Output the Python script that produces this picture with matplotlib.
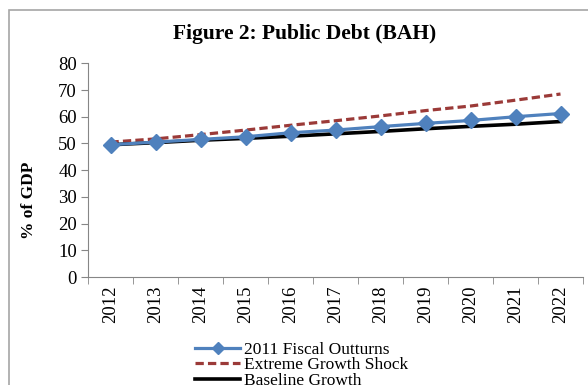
import matplotlib.pyplot as plt
from matplotlib.patches import Rectangle

years = ["2012", "2013", "2014", "2015", "2016", "2017",
         "2018", "2019", "2020", "2021", "2022"]
fiscal_outturns = [49.5, 50.5, 51.5, 52.5, 54.0, 55.0, 56.3, 57.5, 58.6, 60.0, 61.2]
extreme_shock = [50.5, 51.7, 53.3, 55.0, 56.8, 58.5, 60.3, 62.3, 64.0, 66.2, 68.5]
baseline = [49.5, 50.3, 51.2, 51.9, 52.7, 53.6, 54.5, 55.5, 56.4, 57.2, 58.2]

plt.rcParams["font.family"] = ["Liberation Serif", "DejaVu Serif"]

fig = plt.figure(figsize=(5.88, 3.85), dpi=100)
ax = fig.add_axes([88 / 588, 108 / 385, 495 / 588, 213.7 / 385])

# chart area border (runs off the right and bottom edges)
fig.patches.append(Rectangle((9 / 588, -0.1), 1.0, 1 - 10 / 385 + 0.1,
                             transform=fig.transFigure, fill=False,
                             edgecolor="#a6a6a6", linewidth=1.2))

x = list(range(len(years)))
ax.plot(x, fiscal_outturns, color="#4f81bd", linewidth=2.3, marker="D",
        markersize=8, label="2011 Fiscal Outturns", zorder=4)
ax.plot(x, extreme_shock, color="#9b3a38", linewidth=2.3, linestyle=(0, (2.6, 1.3)),
        label="Extreme Growth Shock", zorder=3)
ax.plot(x, baseline, color="black", linewidth=2.6, label="Baseline Growth", zorder=3)

ax.set_xlim(-0.5, len(years) - 0.5)
ax.set_ylim(0, 80)
ax.set_yticks(range(0, 81, 10))
ax.set_xticks(x)
ax.set_xticklabels(years, rotation=90, fontsize=13.5)
ax.set_xticks([i - 0.5 for i in range(len(years) + 1)], minor=True)
ax.tick_params(axis="x", which="major", length=0, pad=6)
ax.tick_params(axis="x", which="minor", length=5, color="#868686", direction="out")
ax.tick_params(axis="y", length=5, color="#868686", labelsize=13.5, pad=3)

for side in ("top", "right"):
    ax.spines[side].set_visible(False)
for side in ("left", "bottom"):
    ax.spines[side].set_color("#868686")

fig.text(305 / 588, 1 - 34 / 385, "Figure 2: Public Debt (BAH)", ha="center",
         va="center", fontsize=15.5, fontweight="bold")
fig.text(29 / 588, 1 - 200 / 385, "% of GDP", ha="center", va="center",
         rotation=90, fontsize=12.5, fontweight="bold")

fig.legend(loc="upper left", bbox_to_anchor=(195 / 588, 1 - 342 / 385),
           frameon=False, fontsize=12.5, handlelength=2.6, handletextpad=0.25,
           labelspacing=-0.05, borderaxespad=0, borderpad=0, markerscale=0.75)

fig.savefig("out.png", dpi=100)
